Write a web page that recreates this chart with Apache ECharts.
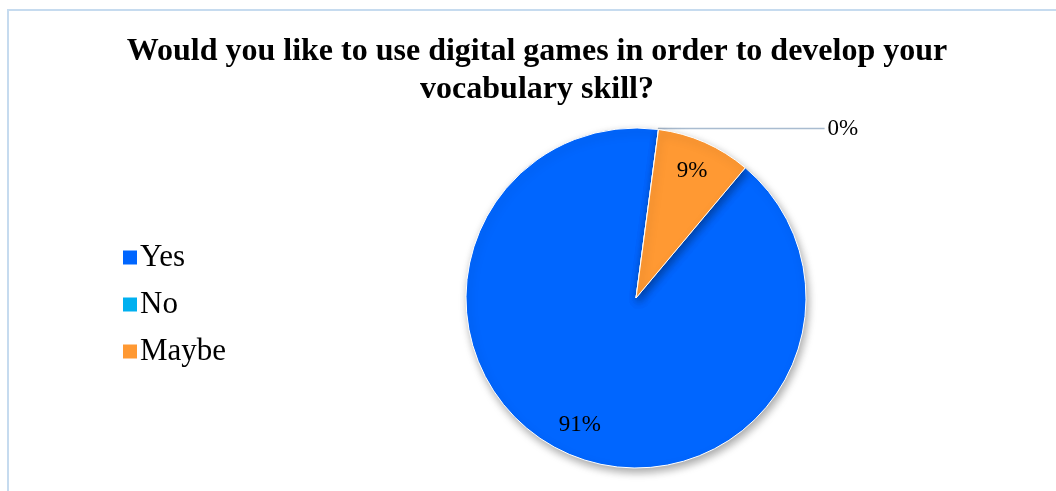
<!DOCTYPE html>
<html>
<head>
<meta charset="utf-8">
<script src="https://cdn.jsdelivr.net/npm/echarts@6/dist/echarts.min.js"></script>
<style>
  html, body { margin: 0; padding: 0; background: #ffffff; }
  #frame {
    position: absolute; left: 7px; top: 9px; width: 1049px; height: 482px;
    border-top: 2px solid #c6dbef; border-left: 2px solid #c6dbef;
    box-sizing: border-box;
  }
  #chart { position: absolute; left: 0; top: 0; width: 1056px; height: 491px; }
</style>
</head>
<body>
<div id="frame"></div>
<div id="chart"></div>
<script>
// Survey answers (percent of respondents)
const titleText = 'Would you like to use digital games in order to develop your\nvocabulary skill?';
const categories = ['Yes', 'No', 'Maybe'];
const percentValues = [91, 0, 9];
const sliceColors = ['#0066ff', '#00b0f0', '#ff9933'];

const pieCenter = [636, 298];
const pieRadius = 170;
const serif = '"Liberation Serif", "Times New Roman", serif';

const pieData = categories.map((name, i) => ({
  name: name,
  value: percentValues[i],
  itemStyle: { color: sliceColors[i] }
}));

// Label ring: same slices, transparent, so inside labels sit near the rim
const labelData = categories.map((name, i) => ({
  name: name,
  value: percentValues[i],
  label: percentValues[i] === 0
    ? { position: 'outside' }
    : { position: 'inside' },
  labelLine: { show: percentValues[i] === 0 }
}));

const chart = echarts.init(document.getElementById('chart'), null, { renderer: 'canvas' });
chart.setOption({
  backgroundColor: 'transparent',
  animation: false,
  title: {
    text: titleText,
    left: 532,
    textAlign: 'center',
    top: 28,
    textStyle: {
      fontFamily: serif,
      fontWeight: 'bold',
      fontSize: 32,
      lineHeight: 38,
      color: '#000000'
    }
  },
  legend: {
    orient: 'vertical',
    left: 116,
    top: 237,
    itemWidth: 16,
    itemHeight: 16,
    itemGap: 16,
    icon: 'rect',
    selectedMode: false,
    data: categories.map((name, i) => ({ name: name, itemStyle: { color: sliceColors[i] } })),
    textStyle: {
      fontFamily: serif,
      fontSize: 31,
      lineHeight: 30,
      color: '#000000',
      padding: [0, 0, 0, -3]
    }
  },
  series: [
    {
      type: 'pie',
      center: pieCenter,
      radius: [0, pieRadius],
      startAngle: 50,
      clockwise: true,
      silent: true,
      data: pieData,
      label: { show: false },
      labelLine: { show: false },
      itemStyle: {
        borderColor: '#ffffff',
        borderWidth: 1,
        shadowBlur: 8,
        shadowOffsetX: 2,
        shadowOffsetY: 4,
        shadowColor: 'rgba(0,0,0,0.35)'
      }
    },
    {
      type: 'pie',
      center: pieCenter,
      radius: [pieRadius * 0.6, pieRadius],
      startAngle: 50,
      clockwise: true,
      silent: true,
      data: labelData,
      itemStyle: { color: 'rgba(0,0,0,0)' },
      label: {
        show: true,
        formatter: '{c}%',
        fontFamily: serif,
        fontSize: 23,
        color: '#000000',
        distanceToLabelLine: 3
      },
      labelLine: {
        length: 1,
        length2: 166,
        lineStyle: { color: '#a9bcd0', width: 1.5 }
      }
    }
  ]
});
</script>
</body>
</html>
